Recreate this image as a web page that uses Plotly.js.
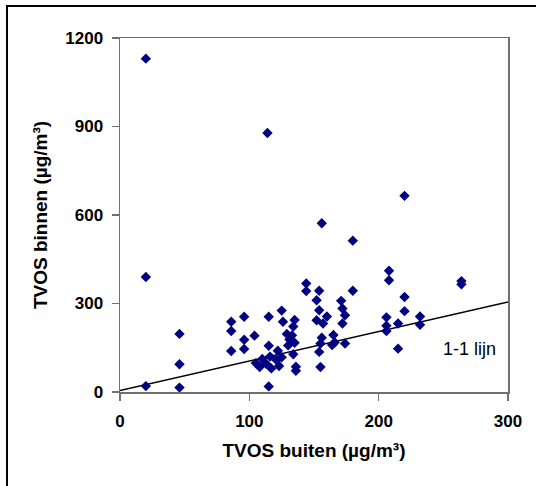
<!DOCTYPE html>
<html>
<head>
<meta charset="utf-8">
<script src="https://cdn.plot.ly/plotly-3.0.1.min.js"></script>
<style>
  html, body { margin: 0; padding: 0; background: #fff; }
  #wrap { position: relative; width: 536px; height: 486px; overflow: hidden; }
  #chart { position: absolute; left: 0; top: 0; width: 536px; height: 486px; }
  #frame { position: absolute; left: 6px; top: 5px; width: 600px; height: 600px;
           border-left: 2px solid #000; border-top: 2px solid #000; pointer-events: none; }
</style>
</head>
<body>
<div id="wrap"><div id="chart"></div><div id="frame"></div></div>
<script>
// TVOS outdoor (buiten) values, µg/m³
const tvosBuiten = [20, 114, 20, 20, 46, 46, 46, 86, 86, 86, 96, 96, 96, 104, 115, 115, 115,
  105, 108, 110, 113, 116, 117, 121, 122, 123, 125, 125, 126, 129, 133, 131, 135, 130, 134,
  136, 136, 135, 134, 144, 144, 154, 152, 154, 152, 160, 157, 156, 155, 154, 155, 165, 166,
  164, 174, 156, 180, 180, 171, 172, 174, 172, 208, 208, 206, 206, 206, 215, 215, 220, 220,
  220, 232, 232, 264, 264];
// TVOS indoor (binnen) values, µg/m³
const tvosBinnen = [1130, 878, 390, 20, 197, 94, 15, 238, 207, 139, 255, 177, 146, 191, 255, 157, 19,
  98, 85, 112, 96, 120, 80, 108, 140, 88, 118, 276, 238, 197, 192, 178, 167, 158, 128,
  86, 72, 244, 222, 368, 342, 343, 311, 277, 243, 256, 232, 184, 164, 136, 85, 193, 168,
  159, 164, 572, 513, 343, 309, 283, 260, 232, 411, 379, 253, 225, 207, 232, 147, 322, 274,
  665, 256, 228, 376, 365];
// 1-1 line
const lineX = [0, 300];
const lineY = [5, 305];
const xTicks = [0, 100, 200, 300];
const yTicks = [0, 300, 600, 900, 1200];

const traces = [
  { x: lineX, y: lineY, type: 'scatter', mode: 'lines',
    line: { color: '#000000', width: 1.5 }, hoverinfo: 'skip' },
  { x: tvosBuiten, y: tvosBinnen, type: 'scatter', mode: 'markers',
    marker: { symbol: 'diamond', size: 8, color: '#000080', line: { width: 0 } } }
];

const axisFont = { family: 'Liberation Sans, Arial, sans-serif', size: 17, color: '#000' };
const titleFont = { family: 'Liberation Sans, Arial, sans-serif', size: 19, color: '#000', weight: 'bold' };

const layout = {
  width: 536, height: 486,
  margin: { l: 120, r: 28, t: 38, b: 94 },
  paper_bgcolor: '#ffffff', plot_bgcolor: '#ffffff',
  showlegend: false,
  font: { family: 'Liberation Sans, Arial, sans-serif', color: '#000' },
  xaxis: {
    range: [0, 300], tickvals: xTicks, ticktext: xTicks.map(v => '<b>' + v + '</b>'),
    showgrid: false, zeroline: false,
    showline: true, linecolor: '#707070', linewidth: 1.5, mirror: true,
    ticks: 'outside', ticklen: 7, tickwidth: 1.5, tickcolor: '#707070',
    tickfont: axisFont, ticklabelstandoff: 6,
    title: { text: '<b>TVOS buiten (µg/m³)</b>', font: titleFont, standoff: 14 }
  },
  yaxis: {
    range: [0, 1200], tickvals: yTicks, ticktext: yTicks.map(v => '<b>' + v + '</b>'),
    showgrid: false, zeroline: false,
    showline: true, linecolor: '#707070', linewidth: 1.5, mirror: true,
    ticks: 'outside', ticklen: 7, tickwidth: 1.5, tickcolor: '#707070',
    tickfont: axisFont, ticklabelstandoff: 5,
    title: { text: '<b>TVOS binnen (µg/m³)</b>', font: titleFont, standoff: 12 }
  },
  annotations: [
    { x: 270, y: 146, xref: 'x', yref: 'y', text: '1-1 lijn', showarrow: false,
      xanchor: 'center', yanchor: 'middle',
      font: { family: 'Liberation Sans, Arial, sans-serif', size: 18, color: '#000' } }
  ]
};

Plotly.newPlot('chart', traces, layout, { displayModeBar: false, staticPlot: true });
</script>
</body>
</html>
